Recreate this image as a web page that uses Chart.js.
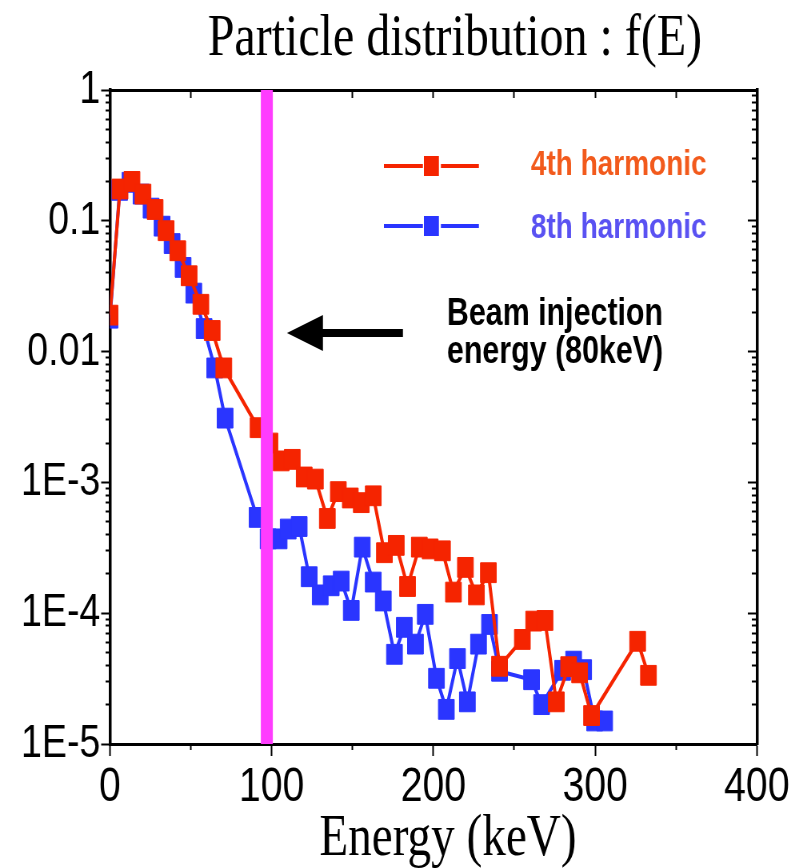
<!DOCTYPE html>
<html>
<head>
<meta charset="utf-8">
<title>Particle distribution : f(E)</title>
<script src="https://cdn.jsdelivr.net/npm/chart.js@4.4.1/dist/chart.umd.min.js"></script>
<style>
	html, body { margin: 0; padding: 0; background: #ffffff; }
	#chart-fE { display: block; width: 811px; height: 868px; }
</style>
</head>
<body>
<canvas id="chart-fE" width="1014" height="868" style="width:811px;height:868px"></canvas>
<script>
// the source picture is squeezed sideways, so the canvas is drawn wider and shown at 811px
const SQUEEZE = 0.8;

// 4th harmonic
const energy4 = [0, 6.2, 13.6, 20.4, 27.9, 34.7, 41.9, 48.9, 56.2, 63.2, 70.4, 91.6, 98.9, 105.9, 112.7, 120.1, 127, 134.4, 141.2, 148.6, 155.4, 162.8, 169.7, 177, 184, 191.3, 198, 205.6, 212.4, 219.8, 226.6, 234, 240.9, 255, 262, 269, 276, 283.6, 290.4, 297.8, 326.3, 333];
const f4 = [0.019, 0.175, 0.2, 0.16, 0.122, 0.084, 0.059, 0.038, 0.023, 0.0145, 0.0075, 0.00262, 0.002, 0.00146, 0.0015, 0.0011, 0.00106, 0.00053, 0.00085, 0.00076, 0.0007, 0.00079, 0.00029, 0.00033, 0.00016, 0.00032, 0.00031, 0.0003, 0.000145, 0.000224, 0.000138, 0.000204, 0.0000393, 0.000063, 0.000087, 0.000088, 0.000021, 0.000039, 0.000035, 0.0000165, 0.000061, 0.0000335];

// 8th harmonic
const energy8 = [0, 6, 12.4, 19.2, 25.4, 32.2, 38.4, 45.2, 51.8, 58.2, 64.8, 71.2, 91, 97.8, 104.6, 110.2, 117, 123.2, 130, 136.8, 143, 149.2, 156, 162.8, 169, 175.9, 182, 188.9, 195, 201.9, 208, 214.9, 221, 227.9, 234.7, 240.9, 260.7, 266.9, 279.9, 286.7, 292.9, 299.7, 305.9];
const f8 = [0.018, 0.171, 0.197, 0.16, 0.125, 0.091, 0.067, 0.044, 0.028, 0.015, 0.0075, 0.0031, 0.00054, 0.00037, 0.00037, 0.00044, 0.00046, 0.00019, 0.000138, 0.000162, 0.000176, 0.000105, 0.00032, 0.000173, 0.000124, 0.0000485, 0.000078, 0.000058, 0.000098, 0.0000318, 0.0000184, 0.000045, 0.000021, 0.000058, 0.000082, 0.000036, 0.000031, 0.00002, 0.0000366, 0.000043, 0.000037, 0.000015, 0.000015];

// beam injection marker
const injectionE = [97, 97];
const injectionF = [1, 0.00001];

// axes
const xTickValues = [0, 100, 200, 300, 400];
const xMinorValues = [50, 150, 250, 350];
const yTickValues = [0.00001, 0.0001, 0.001, 0.01, 0.1, 1];
const yTickLabels = ["1E-5", "1E-4", "1E-3", "0.01", "0.1", "1"];
const yMinorValues = [];
yTickValues.slice(0, -1).forEach((d) => {
	for (let m = 2; m <= 9; m++) yMinorValues.push(m * d);
});

const RED = "#f52400";
const BLUE = "#2a35ff";
const MAGENTA = "#ff3cff";
const SANS = '"Liberation Sans", Arial, sans-serif';
const SERIF = '"Liberation Serif", "Times New Roman", serif';

const toPoints = (xs, ys) => xs.map((x, i) => ({ x: x, y: ys[i] }));
const setTicks = (values) => (axis) => {
	axis.ticks = values.map((v) => ({ value: v }));
};

const X = (cssX) => cssX / SQUEEZE;

const textPlugin = {
	id: "textPlugin",
	afterDraw(chart) {
		const ctx = chart.ctx;
		ctx.save();
		ctx.textBaseline = "alphabetic";

		// title
		ctx.fillStyle = "#000";
		ctx.textAlign = "center";
		ctx.font = "60px " + SERIF;
		ctx.fillText("Particle distribution : f(E)", X(455), 55);
		ctx.font = "59px " + SERIF;
		ctx.fillText("Energy (keV)", X(448), 855);

		// legend
		const legend = [
			{ y: 166, color: RED, text: "4th harmonic", textColor: "#f25a1c", base: 175 },
			{ y: 226, color: BLUE, text: "8th harmonic", textColor: "#5a52f2", base: 238 },
		];
		legend.forEach((item) => {
			ctx.strokeStyle = item.color;
			ctx.lineWidth = 4;
			ctx.beginPath();
			ctx.moveTo(X(384), item.y);
			ctx.lineTo(X(423), item.y);
			ctx.moveTo(X(441), item.y);
			ctx.lineTo(X(479), item.y);
			ctx.stroke();
			ctx.fillStyle = item.color;
			ctx.fillRect(X(424), item.y - 10, X(15), 20);
			ctx.fillStyle = item.textColor;
			ctx.textAlign = "left";
			ctx.font = "bold 35px " + SANS;
			ctx.fillText(item.text, X(531), item.base);
		});

		// arrow
		ctx.fillStyle = "#000";
		ctx.beginPath();
		ctx.moveTo(X(287), 333);
		ctx.lineTo(X(323), 315);
		ctx.lineTo(X(323), 329);
		ctx.lineTo(X(403), 329);
		ctx.lineTo(X(403), 337);
		ctx.lineTo(X(323), 337);
		ctx.lineTo(X(323), 351);
		ctx.closePath();
		ctx.fill();

		ctx.textAlign = "left";
		ctx.font = "bold 38px " + SANS;
		ctx.fillText("Beam injection", X(447), 325);
		ctx.fillText("energy (80keV)", X(447), 363);
		ctx.restore();
	},
};

document.addEventListener("DOMContentLoaded", () => {
	let ctxFE = document.getElementById("chart-fE").getContext("2d");
	let chartFE = new Chart(ctxFE, {
		type: "scatter",
		data: {
			datasets: [
				{
					label: "Beam injection energy",
					data: toPoints(injectionE, injectionF),
					showLine: true,
					borderColor: MAGENTA,
					borderWidth: 15,
					borderCapStyle: "butt",
					pointRadius: 0,
					xAxisID: "x",
					yAxisID: "y",
				},
				{
					label: "4th harmonic",
					data: toPoints(energy4, f4),
					showLine: true,
					borderColor: RED,
					backgroundColor: RED,
					borderWidth: 4,
					pointStyle: "rect",
					pointRadius: 14,
					pointBorderWidth: 1,
					pointBorderColor: RED,
					pointBackgroundColor: RED,
					xAxisID: "x",
					yAxisID: "y",
				},
				{
					label: "8th harmonic",
					data: toPoints(energy8, f8),
					showLine: true,
					borderColor: BLUE,
					backgroundColor: BLUE,
					borderWidth: 4,
					pointStyle: "rect",
					pointRadius: 14,
					pointBorderWidth: 1,
					pointBorderColor: BLUE,
					pointBackgroundColor: BLUE,
					xAxisID: "x",
					yAxisID: "y",
				},
			],
		},
		options: {
			responsive: false,
			animation: false,
			devicePixelRatio: 1,
			layout: {
				padding: { top: 90, right: 67.75, left: 0, bottom: 0 },
			},
			plugins: {
				legend: { display: false },
				title: { display: false },
				tooltip: { enabled: false },
			},
			scales: {
				x: {
					type: "linear",
					position: "bottom",
					min: 0,
					max: 400,
					afterBuildTicks: setTicks(xTickValues),
					afterFit: (axis) => {
						axis.height = 124;
					},
					grid: { drawOnChartArea: false, tickLength: 12, tickWidth: 2, tickColor: "#000" },
					border: { color: "#000", width: 3 },
					ticks: {
						autoSkip: false,
						maxRotation: 0,
						padding: 2,
						color: "#000",
						font: { family: SANS, size: 49 },
					},
				},
				xMinor: {
					type: "linear",
					axis: "x",
					position: { y: 0.00001 },
					min: 0,
					max: 400,
					afterBuildTicks: setTicks(xMinorValues),
					grid: { drawOnChartArea: false, tickLength: 6, tickWidth: 2, tickColor: "#000" },
					border: { display: false },
					ticks: { display: false },
				},
				xTop: {
					type: "linear",
					axis: "x",
					position: { y: 1 },
					min: 0,
					max: 400,
					afterBuildTicks: setTicks(xTickValues.concat(xMinorValues)),
					grid: { drawOnChartArea: false, tickLength: 6, tickWidth: 2, tickColor: "#000" },
					border: { color: "#000", width: 3 },
					ticks: { display: false },
				},
				y: {
					type: "logarithmic",
					position: "left",
					min: 0.00001,
					max: 1,
					afterBuildTicks: setTicks(yTickValues),
					afterFit: (axis) => {
						axis.width = 137.5;
					},
					grid: { drawOnChartArea: false, tickLength: 11, tickWidth: 2, tickColor: "#000" },
					border: { color: "#000", width: 3.5 },
					ticks: {
						autoSkip: false,
						padding: 1,
						color: "#000",
						font: { family: SANS, size: 47 },
						callback: (value) => yTickLabels[yTickValues.indexOf(value)],
					},
				},
				yMinor: {
					type: "logarithmic",
					axis: "y",
					position: { x: 0 },
					min: 0.00001,
					max: 1,
					afterBuildTicks: setTicks(yMinorValues),
					grid: { drawOnChartArea: false, tickLength: 6, tickWidth: 2, tickColor: "#000" },
					border: { display: false },
					ticks: { display: false },
				},
				yRight: {
					type: "logarithmic",
					axis: "y",
					position: { x: 400 },
					min: 0.00001,
					max: 1,
					afterBuildTicks: setTicks(yTickValues),
					grid: { drawOnChartArea: false, tickLength: 10, tickWidth: 2, tickColor: "#000" },
					border: { color: "#000", width: 3.5 },
					ticks: { display: false },
				},
				yRightMinor: {
					type: "logarithmic",
					axis: "y",
					position: { x: 400 },
					min: 0.00001,
					max: 1,
					afterBuildTicks: setTicks(yMinorValues),
					grid: { drawOnChartArea: false, tickLength: 6, tickWidth: 2, tickColor: "#000" },
					border: { display: false },
					ticks: { display: false },
				},
			},
		},
		plugins: [textPlugin],
	});
});
</script>
</body>
</html>
